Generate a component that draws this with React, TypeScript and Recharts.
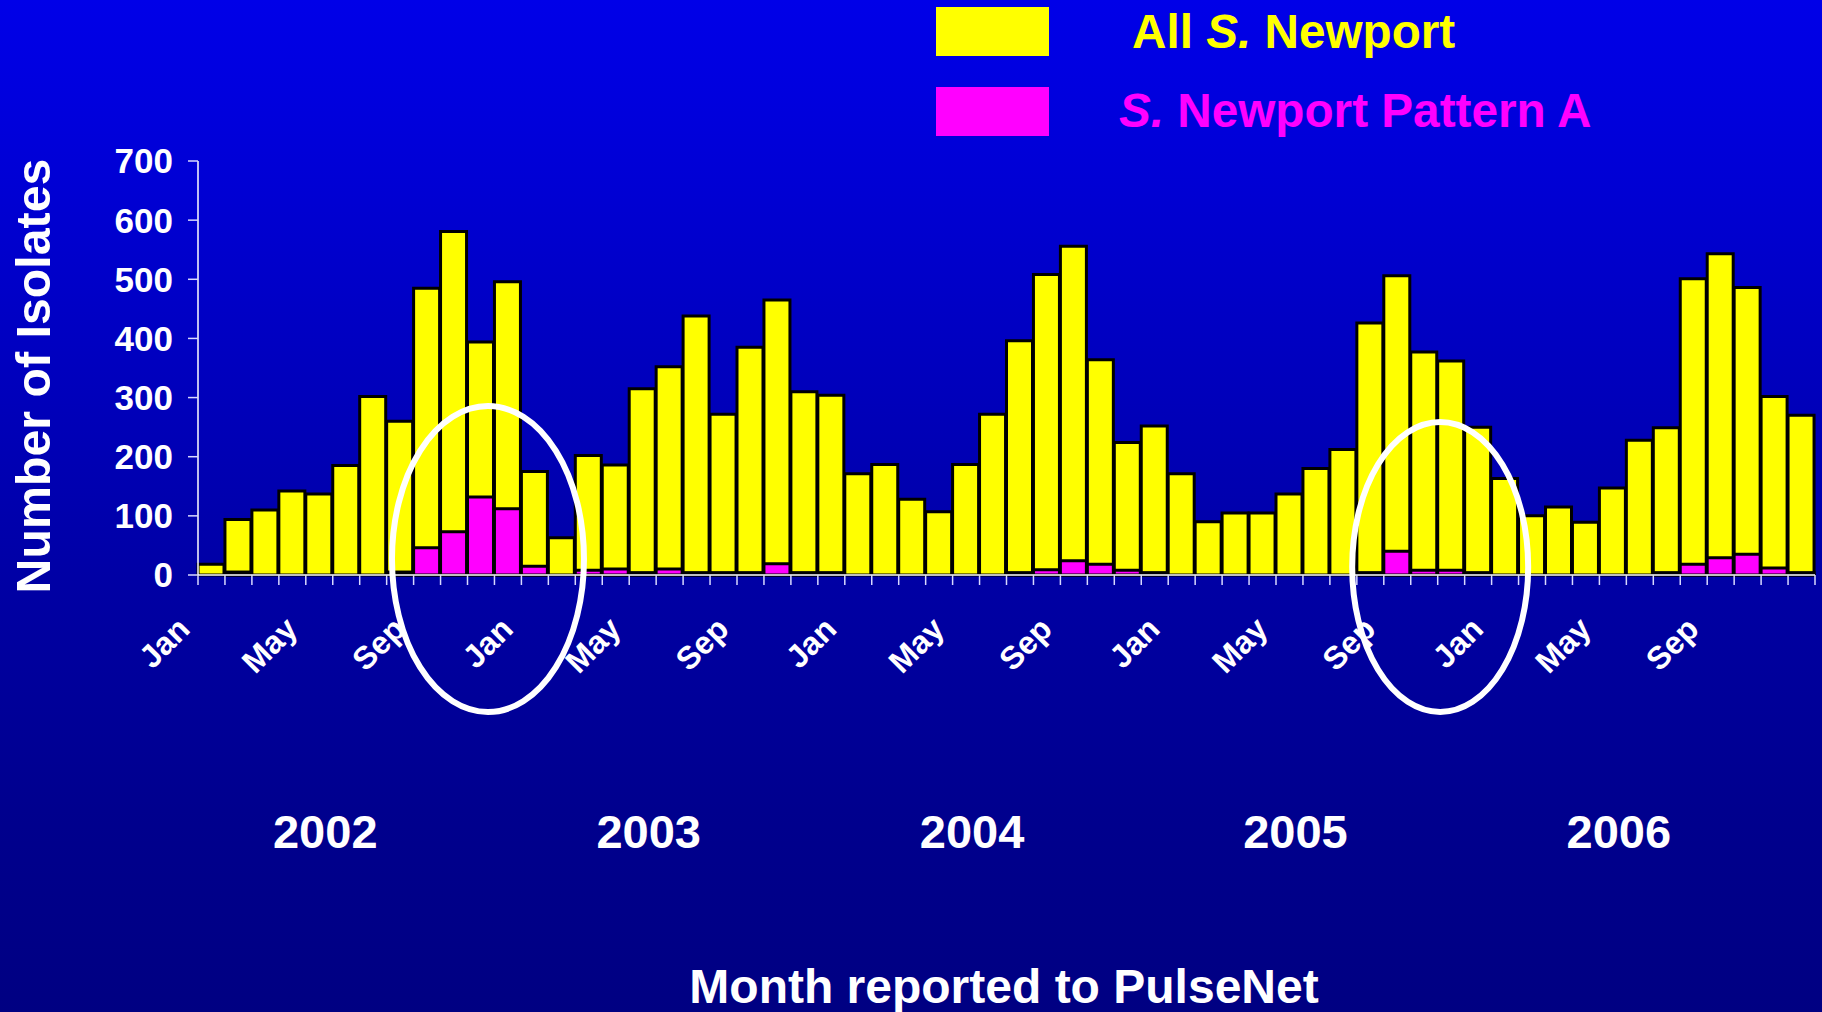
import { Bar, BarChart, Legend, ReferenceDot, XAxis, YAxis } from 'recharts';

const years = [2002, 2003, 2004, 2005, 2006];
const monthNames = ['Jan', 'Feb', 'Mar', 'Apr', 'May', 'Jun', 'Jul', 'Aug', 'Sep', 'Oct', 'Nov', 'Dec'];

// all S. Newport isolates per month, Jan 2002 .. Dec 2006
const allNewport = [
  18, 94, 110, 142, 137, 185, 302, 260, 485, 581, 394, 496,
  175, 63, 202, 186, 315, 352, 438, 272, 385, 465, 310, 304,
  171, 187, 128, 107, 187, 272, 396, 508, 556, 364, 224, 252,
  171, 90, 105, 105, 137, 180, 212, 426, 506, 377, 362, 250,
  163, 100, 115, 89, 147, 228, 249, 501, 543, 486, 302, 270,
];

// S. Newport pattern A isolates per month
const patternA = [
  0, 5, 0, 0, 0, 0, 0, 5, 46, 73, 132, 112,
  15, 0, 8, 10, 4, 10, 4, 4, 4, 19, 4, 4,
  0, 0, 0, 0, 0, 0, 4, 9, 24, 18, 8, 4,
  0, 0, 0, 0, 0, 0, 0, 4, 40, 8, 8, 4,
  0, 0, 0, 0, 0, 0, 4, 18, 29, 35, 12, 4,
];

const yTicks = [0, 100, 200, 300, 400, 500, 600, 700];

const data = allNewport.map((v, i) => ({
  key: `${years[Math.floor(i / 12)]}-${i % 12 + 1}`,
  month: monthNames[i % 12],
  year: years[Math.floor(i / 12)],
  all: v,
  patA: patternA[i],
}));

const W = 1822;
const H = 1012;
const PLOT_LEFT = 198;
const PLOT_RIGHT = 1815;
const BAND = (PLOT_RIGHT - PLOT_LEFT) / data.length;
const FONT = '"Liberation Sans", Arial, Helvetica, sans-serif';

function italicS(name: string) {
  return name.split(/(S\.)/).map((part, i) =>
    part === 'S.' ? (
      <tspan key={i} fontStyle="italic">{part}</tspan>
    ) : (
      <tspan key={i}>{part}</tspan>
    )
  );
}

function MonthTick(props: any) {
  const { x, y, payload } = props;
  const i: number = payload.index;
  const half = BAND / 2;
  const d = data[i];
  const lx = x - 20;
  const ly = y + 56;
  return (
    <g>
      <line x1={x - half} x2={x - half} y1={y} y2={y + 10} stroke="#d8d8ff" strokeWidth={1.5} />
      {i === data.length - 1 && (
        <line x1={x + half} x2={x + half} y1={y} y2={y + 10} stroke="#d8d8ff" strokeWidth={1.5} />
      )}
      {i % 4 === 0 && (
        <text
          x={lx}
          y={ly}
          transform={`rotate(-45 ${lx} ${ly})`}
          textAnchor="end"
          fill="#fff"
          fontSize={32}
          fontWeight={700}
          fontFamily={FONT}
        >
          {d.month}
        </text>
      )}
      {i % 12 === 4 && (
        <text x={x + 6} y={y + 273} textAnchor="middle" fill="#fff" fontSize={47} fontWeight={700} fontFamily={FONT}>
          {d.year}
        </text>
      )}
    </g>
  );
}

function LegendBox(props: any) {
  const items = props.payload ?? [];
  return (
    <svg width={W} height={150}>
      {items.map((it: any, i: number) => (
        <g key={it.value}>
          <rect x={936} y={7 + 80 * i} width={113} height={49} fill={it.color} />
          <text
            x={i === 0 ? 1132 : 1119}
            y={48 + 79 * i}
            fill={it.color}
            fontSize={47.7}
            fontWeight={700}
            fontFamily={FONT}
          >
            {italicS(it.value)}
          </text>
        </g>
      ))}
    </svg>
  );
}

function Ring(props: any, dx: number, rx: number, ry: number) {
  const { cx, cy } = props;
  if (cx == null || cy == null) return <g />;
  return <ellipse cx={cx + dx} cy={cy} rx={rx} ry={ry} fill="none" stroke="#fff" strokeWidth={6} />;
}

export default function App() {
  return (
    <div
      style={{
        position: 'absolute',
        left: 0,
        top: 0,
        width: W,
        height: H,
        overflow: 'hidden',
        background: 'linear-gradient(to bottom, #0000e8 0%, #0000d8 15%, #0000a4 58%, #00008e 80%, #000082 100%)',
      }}
    >
      <BarChart
        width={W}
        height={H}
        data={data}
        margin={{ top: 161, right: W - PLOT_RIGHT, bottom: 0, left: 0 }}
        barSize={26}
        barGap={-26}
      >
        <XAxis
          dataKey="key"
          interval={0}
          height={H - 575}
          tickSize={0}
          tickMargin={0}
          tickLine={false}
          axisLine={{ stroke: '#fff', strokeWidth: 1.5 }}
          tick={<MonthTick />}
          label={() => (
            <text x={1004} y={1003} textAnchor="middle" fill="#fff" fontSize={48} fontWeight={700} fontFamily={FONT}>
              Month reported to PulseNet
            </text>
          )}
        />
        <YAxis
          width={PLOT_LEFT}
          domain={[0, 700]}
          ticks={yTicks}
          interval={0}
          tickSize={10}
          tickMargin={15}
          axisLine={{ stroke: '#fff', strokeWidth: 1.5 }}
          tickLine={{ stroke: '#d8d8ff', strokeWidth: 1.5 }}
          tick={{ fill: '#fff', fontSize: 35, fontWeight: 700, fontFamily: FONT }}
          label={() => (
            <text
              x={50}
              y={376}
              transform="rotate(-90 50 376)"
              textAnchor="middle"
              fill="#fff"
              fontSize={48.3}
              fontWeight={700}
              fontFamily={FONT}
            >
              Number of Isolates
            </text>
          )}
        />
        <Legend
          layout="vertical"
          align="center"
          verticalAlign="middle"
          content={<LegendBox />}
          wrapperStyle={{ left: 0, top: 0, width: W, height: 150 }}
        />
        <Bar dataKey="all" name="All S. Newport" fill="#ffff00" stroke="#000" strokeWidth={3} isAnimationActive={false} />
        <Bar dataKey="patA" name="S. Newport Pattern A" fill="#ff00ff" stroke="#000" strokeWidth={3} isAnimationActive={false} />
        <ReferenceDot x={data[10].key} y={27} r={1} ifOverflow="visible" shape={(p: any) => Ring(p, 7, 96, 153)} />
        <ReferenceDot x={data[46].key} y={13.5} r={1} ifOverflow="visible" shape={(p: any) => Ring(p, -11, 88, 145)} />
      </BarChart>
    </div>
  );
}
